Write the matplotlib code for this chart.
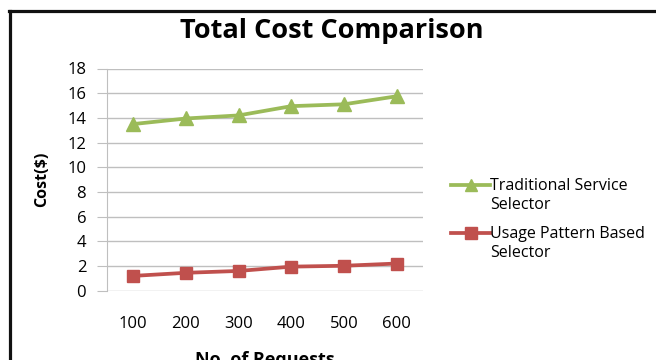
import matplotlib
matplotlib.use("Agg")
import matplotlib.pyplot as plt
from matplotlib.lines import Line2D

# number of requests on the x axis
requests = ["100", "200", "300", "400", "500", "600"]
# total cost in dollars
traditional = [13.5, 13.95, 14.2, 14.95, 15.1, 15.75]
usage_based = [1.2, 1.45, 1.6, 1.95, 2.02, 2.2]
series_names = ["Traditional Service\nSelector", "Usage Pattern Based\nSelector"]

green = "#9BBB59"
red = "#C0504D"
grid_col = "#BFBFBF"

plt.rcParams["font.family"] = ["Open Sans", "DejaVu Sans"]

fig = plt.figure(figsize=(6.56, 3.6), dpi=100)
ax = fig.add_axes([107 / 656, 1 - 290.7 / 360, 316 / 656, 222.2 / 360])

x = list(range(len(requests)))
styles = [dict(color=green, marker="^", ms=9.8), dict(color=red, marker="s", ms=9.2)]
for vals, st in zip([traditional, usage_based], styles):
    ax.plot(x, vals, lw=2.7, **st)

ax.set_xlim(-0.5, len(requests) - 0.5)
ax.set_ylim(0, 18)
ax.set_yticks(range(0, 19, 2))
ax.set_xticks(x)
ax.set_xticklabels(requests)
ax.grid(axis="y", color=grid_col, lw=1)
ax.set_axisbelow(True)
for side in ["top", "right", "bottom"]:
    ax.spines[side].set_visible(False)
ax.spines["left"].set_color(grid_col)
ax.tick_params(axis="y", length=7, color=grid_col, labelsize=12, pad=8)
ax.tick_params(axis="x", length=0, labelsize=12, pad=18)

fig.text(332 / 656, 1 - 31 / 360, "Total Cost Comparison", fontsize=19.5,
         fontweight="bold", ha="center", va="center")
ax.set_ylabel("Cost($)", fontsize=11.5, fontweight="bold", labelpad=12)
ax.set_xlabel("No. of Requests", fontsize=13, fontweight="bold", labelpad=14)

# legend: handle sits on the first line of each two-line label
for i, (name, st) in enumerate(zip(series_names, styles)):
    y = 1 - (185 + 48 * i - 68.5) / 222.2
    ax.add_line(Line2D([(451 - 107) / 316, (490 - 107) / 316], [y, y], lw=2.7,
                       transform=ax.transAxes, clip_on=False, color=st["color"]))
    ax.plot([(470.5 - 107) / 316], [y], transform=ax.transAxes, clip_on=False,
            ls="none", color=st["color"], marker=st["marker"], ms=st["ms"] - 1)
    ax.text((490 - 107) / 316, y + 7 / 222.2, name, transform=ax.transAxes,
            fontsize=11.5, va="top", ha="left", linespacing=1.25)

# black frame around the chart
fig.add_artist(Line2D([8.5 / 656, 1.0], [1 - 10.5 / 360] * 2, color="#111111", lw=2.3,
                      transform=fig.transFigure))
fig.add_artist(Line2D([9.5 / 656] * 2, [0, 1 - 10.5 / 360], color="#111111", lw=2.3,
                      transform=fig.transFigure))

fig.savefig("out.png", dpi=100)
